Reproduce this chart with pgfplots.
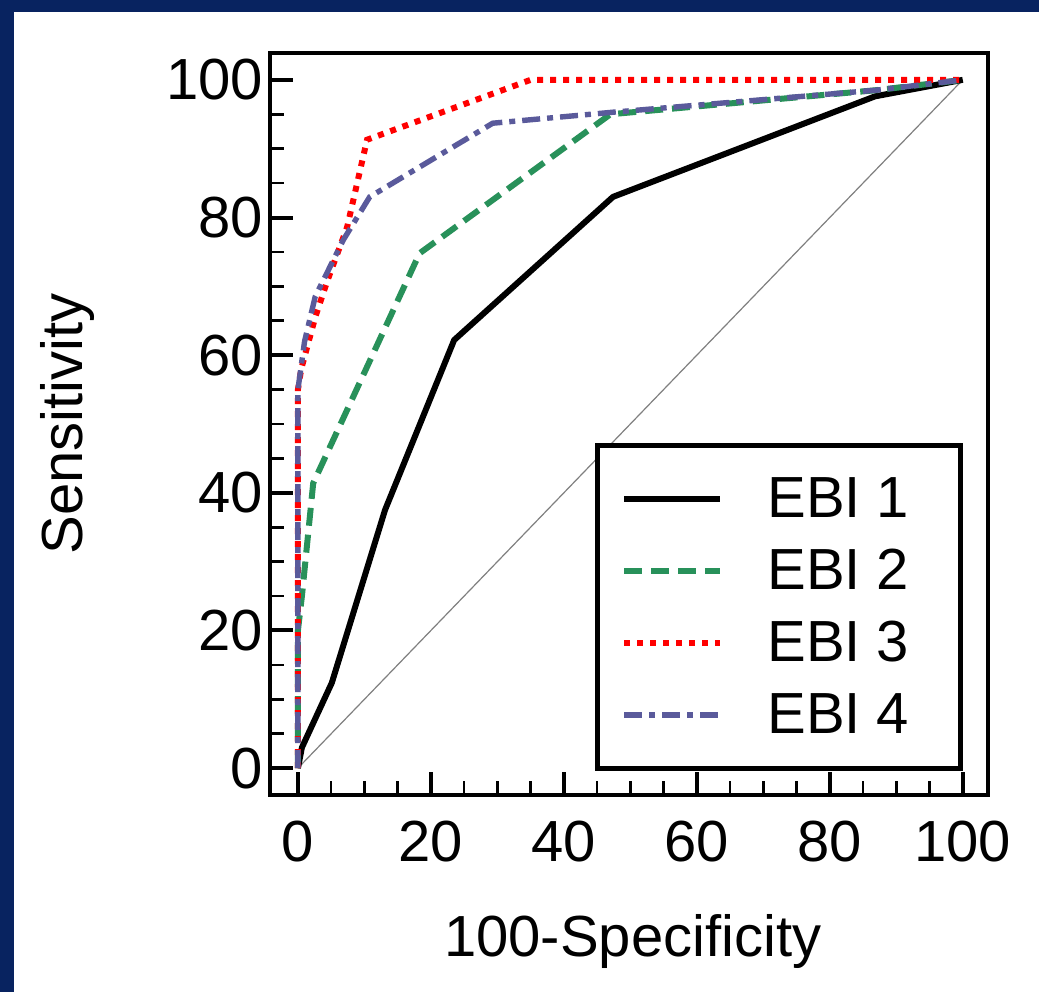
\documentclass[border=0pt]{standalone}
\usepackage{pgfplots}
\pgfplotsset{compat=1.18}
\usepackage{fontspec}
\setmainfont{Liberation Sans}
\definecolor{navyframe}{RGB}{8,35,96}
\definecolor{ebigreen}{RGB}{40,145,90}
\definecolor{ebiblue}{RGB}{90,90,155}
\definecolor{ebired}{RGB}{255,0,0}
\newcommand{\bigfont}{\fontsize{29}{34}\selectfont}
\begin{document}
\begin{tikzpicture}
\useasboundingbox (0,0) rectangle (519.5pt,496pt);
\fill[navyframe] (0,0) rectangle (519.5pt,496pt);
\fill[white] (7pt,0) rectangle (519.5pt,490pt);
\begin{axis}[
  at={(135pt,98.5pt)}, anchor=south west,
  scale only axis, width=359pt, height=371pt,
  xmin=-4.2, xmax=103.8, ymin=-3.9, ymax=103.9,
  xtick={0,20,...,100}, ytick={0,20,...,100},
  minor x tick num=3, minor y tick num=3,
  tick align=inside, xtick pos=left, ytick pos=left,
  major tick length=11.5pt, minor tick length=7pt,
  every major tick/.append style={line width=2pt, black},
  every minor tick/.append style={line width=1.3pt, black},
  axis line style={line width=2.2pt},
  /pgf/number format/assume math mode=true,
  tick label style={font=\bigfont},
  xticklabel style={yshift=-9.5pt},
  label style={font=\bigfont},
  xlabel={100-Specificity}, ylabel={Sensitivity},
  xlabel style={at={(axis description cs:0.505,-0.2183)}, anchor=base},
  ylabel style={at={(axis description cs:-0.2618,0.5)}, anchor=base},
  legend style={at={(0.965,0.033)}, anchor=south east, draw=black,
    line width=2.5pt, fill=white, font=\bigfont,
    inner xsep=12pt, inner ysep=15.8pt, row sep=14.4pt, column sep=22pt,
    nodes={inner sep=0pt}},
  legend cell align=left,
  legend image code/.code={\draw[#1, line cap=butt] (0pt,0pt) -- (48pt,0pt);},
]
\addplot[forget plot, black!50, line width=0.6pt] coordinates {(0,0) (100,100)};
\addplot[black, line width=3pt, line join=round] coordinates {
 (0,0) (0.6,3) (5.1,12.4) (13.1,37.5) (23.5,62.2) (47.4,83) (86.8,97.6) (100,100)};
\addlegendentry{\makebox[84.5pt][l]{EBI 1}}
\addplot[ebigreen, line width=3pt, dash pattern=on 9pt off 4.5pt] coordinates {
 (0,0) (0,20) (0.6,25) (2.3,41.4) (18.3,74.8) (47,95) (87,98.5) (100,100)};
\addlegendentry{\makebox[84.5pt][l]{EBI 2}}
\addplot[ebired, line width=3pt, dash pattern=on 3pt off 3.5pt] coordinates {
 (0,0) (0,55) (0.5,58) (2.6,65.5) (4.5,71) (7.4,78.6) (10.4,91.3) (35,100) (100,100)};
\addlegendentry{\makebox[84.5pt][l]{EBI 3}}
\addplot[ebiblue, line width=2.7pt, dash pattern=on 9pt off 3.5pt on 3pt off 3.5pt] coordinates {
 (0,0) (0,55) (1,62) (2.6,68.5) (6.8,76.7) (10.8,83) (29.3,93.7) (47.4,95.3) (87,98.5) (100,100)};
\addlegendentry{\makebox[84.5pt][l]{EBI 4}}
\end{axis}
\end{tikzpicture}
\end{document}
